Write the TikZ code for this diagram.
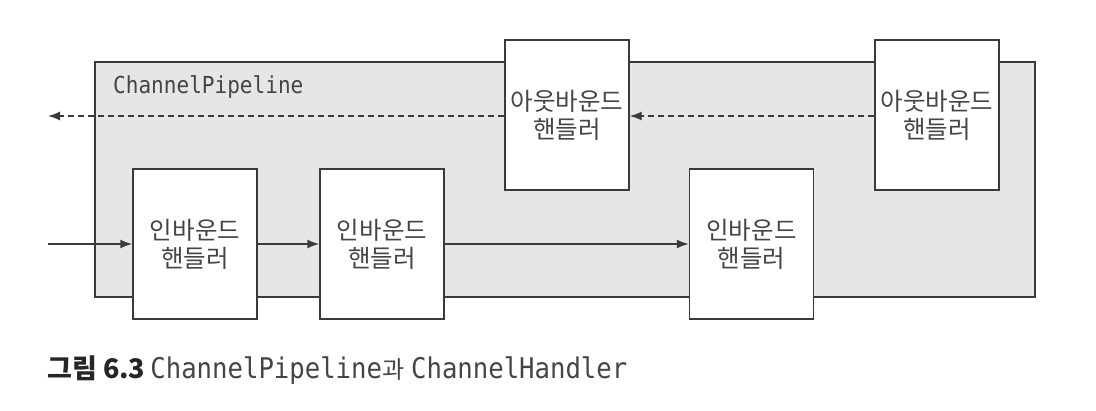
\documentclass[tikz,border=0pt]{standalone}
\usepackage{fontspec}
\setmainfont{DejaVu Sans}
\newfontfamily\kr{Noto Sans CJK KR}
\newfontfamily\mono[FakeStretch=0.9]{DejaVu Sans Mono}
\usetikzlibrary{arrows.meta}
\definecolor{boxline}{HTML}{3A3A3A}
\definecolor{pipefill}{HTML}{E6E6E6}
\definecolor{txt}{HTML}{454545}
\tikzset{
  pipebox/.style={draw=boxline, line width=1.4pt, fill=pipefill, rectangle, inner sep=0pt},
  handler/.style={draw=boxline, line width=1.4pt, fill=white, rectangle, inner sep=0pt,
    minimum width=124pt, minimum height=150pt, align=center, text=txt,
    font=\kr\fontsize{24.5}{28}\selectfont},
  flow/.style={draw=boxline, line width=1.5pt, -{Latex[length=12pt,width=9pt]}},
  backflow/.style={flow, dash pattern=on 6pt off 4pt},
}
\begin{document}
\begin{tikzpicture}[x=1pt,y=-1pt]
\useasboundingbox (0,0) rectangle (1096,410);
\node[pipebox, minimum width=940pt, minimum height=235pt] (pipe) at (565,179.5) {};
\node[anchor=west, text=txt, inner sep=0pt, font=\mono\fontsize{23.4}{27}\selectfont] (plabel) at (113,87) {ChannelPipeline};
\node[handler] (out1) at (567,115) {아웃바운드\\핸들러};
\node[handler] (out2) at (937,115) {아웃바운드\\핸들러};
\node[handler] (in1) at (195,244) {인바운드\\핸들러};
\node[handler] (in2) at (382,244) {인바운드\\핸들러};
\node[handler] (in3) at (751.5,244) {인바운드\\핸들러};
\coordinate (outL) at (48,116);
\coordinate (inL) at (48,244);
\draw[backflow] (out2.west |- 0,116) -- (out1.east |- 0,116);
\draw[backflow] (out1.west |- 0,116) -- (outL);
\draw[flow] (inL) -- (in1.west);
\draw[flow] (in1.east) -- (in2.west);
\draw[flow] (in2.east) -- (in3.west);
\node[anchor=base west, inner sep=0pt, text=txt] (cap) at (47,378)
  {{\kr\bfseries\fontsize{27}{30}\selectfont\color{black!85}그림 6.3}\hspace{5pt}{\mono\fontsize{28.5}{30}\selectfont ChannelPipeline}{\kr\fontsize{24}{27}\selectfont 과}\hspace{7pt}{\mono\fontsize{28.5}{30}\selectfont ChannelHandler}};
\end{tikzpicture}
\end{document}
